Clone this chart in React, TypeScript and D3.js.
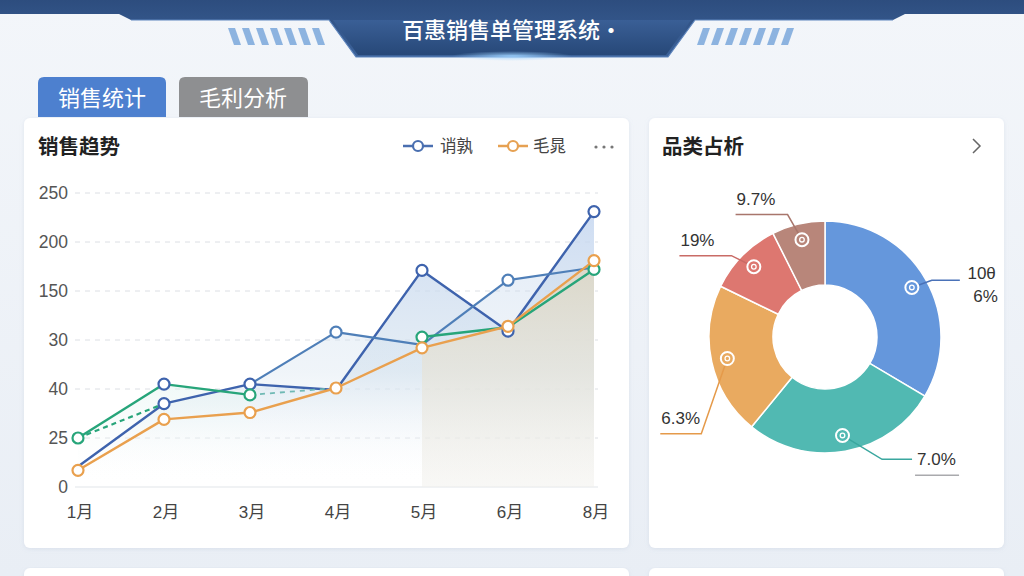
import React from "react";
import * as d3 from "d3";

const months = ["1月", "2月", "3月", "4月", "5月", "6月", "8月"];
const yTickValues = [0, 50, 100, 150, 200, 250, 300];
const yTickLabels = ["0", "25", "40", "30", "150", "200", "250"];
const salesMain: (number | null)[] = [21, 85, 105, 99, 221, 159, 281];
const salesAlt: (number | null)[] = [null, null, 105, 158, 145, 211, 224];
const greenSeries: (number | null)[] = [50, 105, 94, null, 153, 163, 222];
const greenDashed: (number | null)[] = [50, 85, null, null, null, null, null];
const tealDashed: (number | null)[] = [null, null, 94, 101, null, null, null];
const profit: (number | null)[] = [17, 69, 76, 101, 142, 164, 231];
const legendNames = ["诮孰", "毛晁"];

const pieValues = [33.5, 27.4, 21.3, 10.4, 7.4];
const pieLabels = [["10θ", "6%"], ["7.0%"], ["6.3%"], ["19%"], ["9.7%"]];
const pieColors = ["#6597dc", "#51b9b2", "#e9aa60", "#dd7770", "#b8867a"];
const pieLineColors = ["#4a72b8", "#3aa79f", "#e59a4a", "#c96b66", "#a8766c"];

const labelLayout = [
  { a: 62, r: 121, run: 28, mode: "right2" },
  { a: 155, r: 135, run: 30, mode: "rightU" },
  { a: 232, r: 157, run: -41, mode: "above" },
  { a: 311, r: 124, run: -52, mode: "above" },
  { a: 343, r: 128, run: -52, mode: "above" },
];

const NUM = "'Liberation Sans', Arial, 'Noto Sans CJK SC', sans-serif";
const CJK = "'Noto Sans CJK SC', 'Noto Sans', sans-serif";

export default function App() {
  const x = d3.scalePoint<string>().domain(months).range([78, 594]);
  const y = d3.scaleLinear().domain([0, 300]).range([487, 193]);

  const lineGen = d3
    .line<number | null>()
    .defined((d) => d != null)
    .x((_, i) => x(months[i])!)
    .y((d) => y(d as number));
  const areaGen = d3
    .area<number | null>()
    .defined((d) => d != null)
    .x((_, i) => x(months[i])!)
    .y0(y(0))
    .y1((d) => y(d as number));

  const profitLate = profit.map((d, i) => (i >= 4 ? d : null));

  const cx = 825, cy = 337;
  const pie = d3.pie<number>().sort(null).value((d) => d)(pieValues);
  const arc = d3.arc<d3.PieArcDatum<number>>().innerRadius(52).outerRadius(116);
  const markArc = d3.arc<d3.PieArcDatum<number>>().innerRadius(100).outerRadius(100);

  const markers = (vals: (number | null)[], idx: number[], color: string, key: string) =>
    idx
      .filter((i) => vals[i] != null)
      .map((i) => (
        <circle key={key + i} cx={x(months[i])} cy={y(vals[i] as number)} r={5.5} fill="#fff" stroke={color} strokeWidth={2.2} />
      ));

  const stripes = (x0: number, dir: number, key: string) =>
    d3.range(7).map((i) => {
      const sx = x0 + i * 14;
      const pts = dir > 0
        ? `${sx},28 ${sx + 7},28 ${sx + 13},45 ${sx + 6},45`
        : `${sx + 6},28 ${sx + 13},28 ${sx + 7},45 ${sx},45`;
      return <polygon key={key + i} points={pts} fill="#7aa7db" opacity={0.85} />;
    });

  return (
    <svg width={1024} height={576} style={{ position: "fixed", left: 0, top: 0 }} xmlns="http://www.w3.org/2000/svg">
      <defs>
        <linearGradient id="bg" x1="0" y1="0" x2="0" y2="1">
          <stop offset="0" stopColor="#f3f6fa" />
          <stop offset="1" stopColor="#e9eef5" />
        </linearGradient>
        <linearGradient id="hdr" x1="0" y1="0" x2="0" y2="1">
          <stop offset="0" stopColor="#2d4d7e" />
          <stop offset="1" stopColor="#3c629a" />
        </linearGradient>
        <linearGradient id="center" x1="0" y1="0" x2="0" y2="1">
          <stop offset="0" stopColor="#3a5f96" />
          <stop offset="1" stopColor="#274878" />
        </linearGradient>
        <radialGradient id="glow" cx="0.5" cy="0.5" r="0.5">
          <stop offset="0" stopColor="#9fd3ff" stopOpacity="0.9" />
          <stop offset="1" stopColor="#9fd3ff" stopOpacity="0" />
        </radialGradient>
        <linearGradient id="blueAreaU" gradientUnits="userSpaceOnUse" x1="0" y1="200" x2="0" y2="487">
          <stop offset="0" stopColor="#c3d5f0" stopOpacity="0.85" />
          <stop offset="0.6" stopColor="#d4e2ee" stopOpacity="0.6" />
          <stop offset="1" stopColor="#ffffff" stopOpacity="0" />
        </linearGradient>
        <linearGradient id="tealArea" gradientUnits="userSpaceOnUse" x1="0" y1="330" x2="0" y2="487">
          <stop offset="0" stopColor="#cdeae6" stopOpacity="0.7" />
          <stop offset="1" stopColor="#ffffff" stopOpacity="0" />
        </linearGradient>
        <linearGradient id="beigeArea" gradientUnits="userSpaceOnUse" x1="0" y1="260" x2="0" y2="487">
          <stop offset="0" stopColor="#dcd7c6" stopOpacity="0.95" />
          <stop offset="1" stopColor="#f1f0ec" stopOpacity="0.5" />
        </linearGradient>
        <filter id="shadow" x="-5%" y="-5%" width="110%" height="110%">
          <feDropShadow dx="0" dy="1" stdDeviation="2" floodColor="#8ea0ba" floodOpacity="0.18" />
        </filter>
      </defs>

      <rect x={0} y={0} width={1024} height={576} fill="url(#bg)" />

      {/* header */}
      <polygon points="0,0 1024,0 1024,14 905,14 893,20 695,20 668,57 356,57 329,20 131,20 119,14 0,14" fill="url(#hdr)" />
      <polygon points="333,20 691,20 666,55 358,55" fill="url(#center)" />
      <polyline points="131,20 329,20 356,57 668,57 695,20 893,20" fill="none" stroke="#5f86bd" strokeWidth={1.2} />
      <ellipse cx={512} cy={56} rx={60} ry={5} fill="url(#glow)" />
      {stripes(228, 1, "l")}
      {stripes(697, -1, "r")}
      <text x={512} y={38} textAnchor="middle" fill="#fff" fontFamily={CJK} fontSize={22} fontWeight={500}>
        百惠销售单管理系统·
      </text>

      {/* tabs */}
      <path d="M38,117 V83 Q38,77 44,77 H160 Q166,77 166,83 V117 Z" fill="#4d80cf" />
      <text x={102} y={106} textAnchor="middle" fill="#fff" fontFamily={CJK} fontSize={22}>销售统计</text>
      <path d="M179,117 V83 Q179,77 185,77 H302 Q308,77 308,83 V117 Z" fill="#8e8f91" />
      <text x={243} y={106} textAnchor="middle" fill="#fff" fontFamily={CJK} fontSize={22}>毛利分析</text>

      {/* cards */}
      <rect x={24} y={118} width={605} height={430} rx={6} fill="#fff" filter="url(#shadow)" />
      <rect x={649} y={118} width={355} height={430} rx={6} fill="#fff" filter="url(#shadow)" />
      <rect x={24} y={568} width={605} height={20} rx={6} fill="#fff" filter="url(#shadow)" />
      <rect x={649} y={568} width={355} height={20} rx={6} fill="#fff" filter="url(#shadow)" />

      {/* left card title + legend */}
      <text x={38} y={154} fill="#222" fontFamily={CJK} fontSize={20.5} fontWeight={700}>销售趋势</text>
      <g>
        <line x1={403} y1={146} x2={433} y2={146} stroke="#4a6fb0" strokeWidth={2.5} />
        <circle cx={418} cy={146} r={5} fill="#fff" stroke="#4a6fb0" strokeWidth={2.2} />
        <text x={440} y={152} fill="#444" fontFamily={CJK} fontSize={16.5}>{legendNames[0]}</text>
        <line x1={498} y1={146} x2={528} y2={146} stroke="#e6a152" strokeWidth={2.5} />
        <circle cx={513} cy={146} r={5} fill="#fff" stroke="#e6a152" strokeWidth={2.2} />
        <text x={533} y={152} fill="#444" fontFamily={CJK} fontSize={16.5}>{legendNames[1]}</text>
        {[596, 604, 612].map((dx) => (
          <circle key={dx} cx={dx} cy={147} r={1.6} fill="#777" />
        ))}
      </g>

      {/* grid */}
      {yTickValues.map((v, i) => (
        <g key={v}>
          {i > 0 && (
            <line x1={75} x2={598} y1={y(v)} y2={y(v)} stroke="#dcdfe4" strokeWidth={1} strokeDasharray="5,5" />
          )}
          <text x={68} y={y(v) + 6} textAnchor="end" fill="#555" fontFamily={NUM} fontSize={17.5}>
            {yTickLabels[i]}
          </text>
        </g>
      ))}
      <line x1={75} x2={598} y1={y(0)} y2={y(0)} stroke="#e2e5ea" strokeWidth={1.2} />
      {months.map((m) => (
        <text key={m} x={x(m)! + 2} y={518} textAnchor="middle" fill="#444" fontFamily={NUM} fontSize={17}>
          {m}
        </text>
      ))}

      {/* areas */}
      <path d={areaGen(salesMain) || ""} fill="url(#blueAreaU)" />
      <path d={areaGen(salesAlt) || ""} fill="url(#blueAreaU)" opacity={0.6} />
      <path d={areaGen(greenSeries.map((d, i) => (i < 3 ? d : null))) || ""} fill="url(#tealArea)" />
      <path d={areaGen(profitLate) || ""} fill="url(#beigeArea)" />

      {/* lines */}
      <path d={lineGen(salesMain) || ""} fill="none" stroke="#3e63ad" strokeWidth={2.4} strokeLinejoin="round" />
      <path d={lineGen(salesAlt) || ""} fill="none" stroke="#4f7fb8" strokeWidth={2.2} strokeLinejoin="round" />
      <path d={lineGen(greenSeries) || ""} fill="none" stroke="#27a57a" strokeWidth={2.4} strokeLinejoin="round" />
      <path d={lineGen(greenDashed) || ""} fill="none" stroke="#27a57a" strokeWidth={2.2} strokeDasharray="5,4" />
      <path d={lineGen(tealDashed) || ""} fill="none" stroke="#6fb9b4" strokeWidth={1.8} strokeDasharray="5,5" />
      <path d={lineGen(profit) || ""} fill="none" stroke="#e9a04e" strokeWidth={2.4} strokeLinejoin="round" />

      {/* markers */}
      {markers(salesMain, [1, 2, 4, 5, 6], "#3e63ad", "a")}
      {markers(salesAlt, [3, 5], "#4f7fb8", "b")}
      {markers(greenSeries, [0, 2, 4, 6], "#27a57a", "g")}
      {markers(greenSeries, [1], "#3e63ad", "g2")}
      {markers(profit, [0, 1, 2, 3, 4, 5, 6], "#e9a04e", "o")}

      {/* right card */}
      <text x={662} y={154} fill="#222" fontFamily={CJK} fontSize={20.5} fontWeight={700}>品类占析</text>
      <path d="M973,139 L980,146 L973,153" fill="none" stroke="#666" strokeWidth={1.5} />

      <g transform={`translate(${cx},${cy})`}>
        {pie.map((p, i) => (
          <path key={i} d={arc(p) || ""} fill={pieColors[i]} stroke="#fff" strokeWidth={1.5} />
        ))}
        {pie.map((p, i) => {
          const [mx, my] = markArc.centroid(p);
          const L = labelLayout[i];
          const ar = (L.a * Math.PI) / 180;
          const ex = L.r * Math.sin(ar);
          const ey = -L.r * Math.cos(ar);
          const endX = ex + L.run;
          const col = pieLineColors[i];
          const lab = pieLabels[i];
          let textEl: React.ReactNode = null;
          if (L.mode === "right2") {
            textEl = (
              <text fill="#333" fontFamily={NUM} fontSize={17} textAnchor="end">
                <tspan x={endX + 36} y={ey - 1}>{lab[0]}</tspan>
                <tspan x={endX + 38} y={ey + 22}>{lab[1]}</tspan>
              </text>
            );
          } else if (L.mode === "rightU") {
            textEl = (
              <g>
                <text x={endX + 5} y={ey + 6} fill="#333" fontFamily={NUM} fontSize={17}>{lab[0]}</text>
                <line x1={endX + 3} x2={endX + 47} y1={ey + 16} y2={ey + 16} stroke="#a9aaad" strokeWidth={1.5} />
              </g>
            );
          } else {
            textEl = (
              <text x={endX + 1} y={ey - 10} fill="#333" fontFamily={NUM} fontSize={17}>{lab[0]}</text>
            );
          }
          return (
            <g key={"l" + i}>
              <polyline points={`${mx},${my} ${ex},${ey} ${endX},${ey}`} fill="none" stroke={col} strokeWidth={1.5} />
              <circle cx={mx} cy={my} r={6.5} fill={pieColors[i]} stroke="#fff" strokeWidth={2} />
              <circle cx={mx} cy={my} r={2.3} fill="none" stroke="#fff" strokeWidth={1.3} />
              {textEl}
            </g>
          );
        })}
      </g>
    </svg>
  );
}
